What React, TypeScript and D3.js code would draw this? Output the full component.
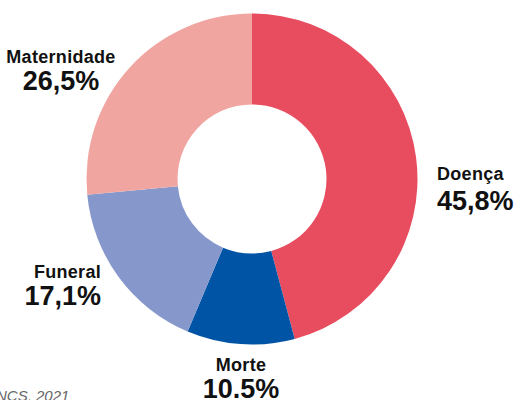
import React from "react";
import * as d3 from "d3";

const categories = ["Doença", "Morte", "Funeral", "Maternidade"];
const values = [45.8, 10.5, 17.1, 26.5];
const valueLabels = ["45,8%", "10.5%", "17,1%", "26,5%"];
const colors = ["#E84D5F", "#0054A5", "#8697CB", "#F0A5A1"];
const source = "NCS, 2021";

const W = 519;
const H = 400;
const cx = 252;
const cy = 179;
const outerR = 165.5;
const innerR = 74.5;

// label placements (anchor, x, label baseline, value baseline)
const labelPos: { anchor: "start" | "middle" | "end"; x: number; y1: number; y2: number }[] = [
  { anchor: "start", x: 437, y1: 180, y2: 210 },
  { anchor: "middle", x: 241, y1: 371, y2: 398 },
  { anchor: "end", x: 101, y1: 278, y2: 305 },
  { anchor: "middle", x: 61, y1: 63, y2: 90 },
];

export default function App() {
  const pie = d3
    .pie<number>()
    .sort(null)
    .startAngle(0)
    .endAngle(Math.PI * 2)(values);
  const arc = d3
    .arc<d3.PieArcDatum<number>>()
    .innerRadius(innerR)
    .outerRadius(outerR);

  return (
    <svg
      width={W}
      height={H}
      style={{ position: "absolute", left: 0, top: 0, background: "#fff" }}
    >
      <g transform={`translate(${cx},${cy})`}>
        {pie.map((d, i) => (
          <path key={categories[i]} d={arc(d) || ""} fill={colors[i]} />
        ))}
      </g>
      {categories.map((c, i) => {
        const p = labelPos[i];
        return (
          <g key={c}>
            <text
              x={p.x}
              y={p.y1}
              textAnchor={p.anchor}
              fontFamily="'Liberation Sans Narrow', 'Arial Narrow', sans-serif"
              fontWeight="bold"
              fontSize={18}
              letterSpacing={0.3}
              fill="#111"
            >
              {c}
            </text>
            <text
              x={p.x}
              y={p.y2}
              textAnchor={p.anchor}
              fontFamily="'Liberation Sans', Arial, sans-serif"
              fontWeight="bold"
              fontSize={27}
              fill="#111"
            >
              {valueLabels[i]}
            </text>
          </g>
        );
      })}
      <text
        x={-4}
        y={401}
        fontFamily="'Liberation Sans', Arial, sans-serif"
        fontStyle="italic"
        fontSize={15}
        fill="#666"
      >
        {source}
      </text>
    </svg>
  );
}
